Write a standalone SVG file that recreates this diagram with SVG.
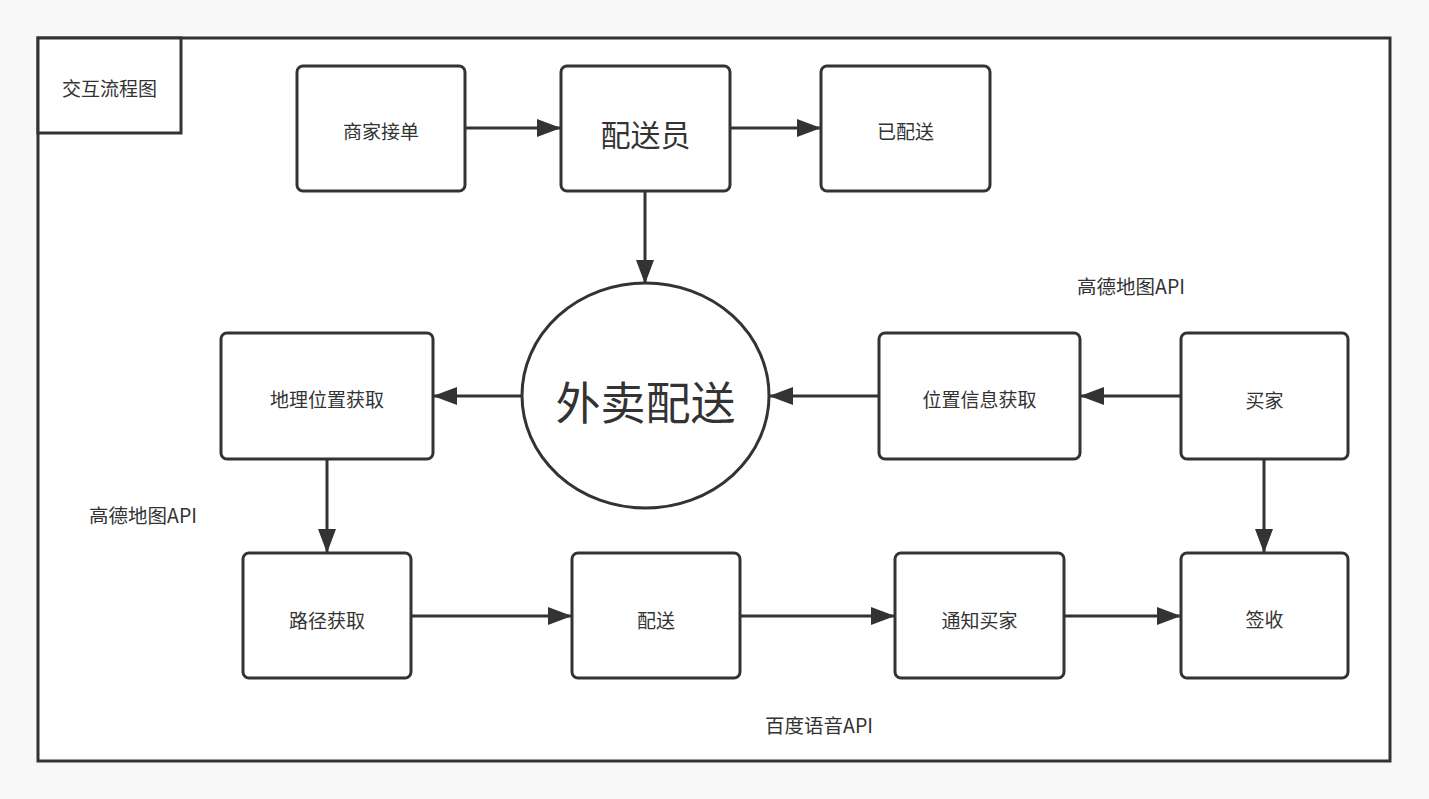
<svg xmlns="http://www.w3.org/2000/svg" width="1429" height="799" viewBox="0 0 1429 799">
<defs>
<marker id="ah" markerWidth="8" markerHeight="6" refX="8" refY="3" orient="auto" markerUnits="strokeWidth">
<path d="M0,0 L8,3 L0,6 Z" fill="#333"/>
</marker>
<style>
.box{fill:#fff;stroke:#333;stroke-width:3}
.t{font-family:"Noto Sans CJK SC","Microsoft YaHei",sans-serif;fill:#333;text-anchor:middle;dominant-baseline:central;font-size:19px}
.api{font-size:19.5px}
.c{fill:none;stroke:#333;stroke-width:3;marker-end:url(#ah)}
</style>
</defs>
<rect x="0" y="0" width="1429" height="799" fill="#f8f8f8"/>
<g id="frame">
<rect x="38" y="38" width="1352" height="723" fill="#fff" stroke="#333" stroke-width="3"/>
</g>
<g id="title">
<rect x="38" y="38" width="143" height="95" fill="#fff" stroke="#333" stroke-width="3"/>
<text class="t" x="109.5" y="87">交互流程图</text>
</g>
<g id="connectors">
<line class="c" x1="465" y1="128" x2="561" y2="128"/>
<line class="c" x1="730" y1="128" x2="821" y2="128"/>
<line class="c" x1="645" y1="191" x2="645" y2="284"/>
<line class="c" x1="522" y1="396" x2="433" y2="396"/>
<line class="c" x1="879" y1="396" x2="769" y2="396"/>
<line class="c" x1="1181" y1="396" x2="1080" y2="396"/>
<line class="c" x1="327" y1="459" x2="327" y2="553"/>
<line class="c" x1="411" y1="616" x2="572" y2="616"/>
<line class="c" x1="740" y1="616" x2="895" y2="616"/>
<line class="c" x1="1064" y1="616" x2="1181" y2="616"/>
<line class="c" x1="1264" y1="459" x2="1264" y2="553"/>
</g>
<g id="n-merchant"><rect class="box" x="297" y="66" width="168" height="125" rx="6"/><text class="t" x="381" y="130">商家接单</text></g>
<g id="n-courier"><rect class="box" x="561" y="66" width="169" height="125" rx="6"/><text class="t" x="645.5" y="133" style="font-size:30px">配送员</text></g>
<g id="n-delivered"><rect class="box" x="821" y="66" width="169" height="125" rx="6"/><text class="t" x="905.5" y="130">已配送</text></g>
<g id="n-center"><ellipse cx="645.5" cy="395.5" rx="123.5" ry="112.5" fill="#fff" stroke="#333" stroke-width="3"/><text class="t" x="645.5" y="400" style="font-size:45px">外卖配送</text></g>
<g id="n-geo"><rect class="box" x="221" y="333" width="212" height="126" rx="6"/><text class="t" x="327" y="398">地理位置获取</text></g>
<g id="n-locinfo"><rect class="box" x="879" y="333" width="201" height="126" rx="6"/><text class="t" x="979.5" y="398">位置信息获取</text></g>
<g id="n-buyer"><rect class="box" x="1181" y="333" width="167" height="126" rx="6"/><text class="t" x="1264.5" y="399">买家</text></g>
<g id="n-route"><rect class="box" x="243" y="553" width="168" height="125" rx="6"/><text class="t" x="327" y="619">路径获取</text></g>
<g id="n-deliver"><rect class="box" x="572" y="553" width="168" height="125" rx="6"/><text class="t" x="656" y="619">配送</text></g>
<g id="n-notify"><rect class="box" x="895" y="553" width="169" height="125" rx="6"/><text class="t" x="979.5" y="619">通知买家</text></g>
<g id="n-sign"><rect class="box" x="1181" y="553" width="167" height="125" rx="6"/><text class="t" x="1264.5" y="618">签收</text></g>
<g id="labels">
<text class="t api" x="1131" y="285">高德地图API</text>
<text class="t api" x="143" y="514">高德地图API</text>
<text class="t api" x="819" y="724">百度语音API</text>
</g>
</svg>
